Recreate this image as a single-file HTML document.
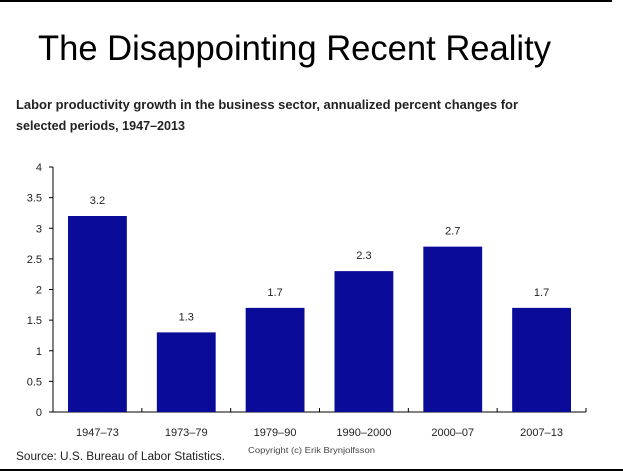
<!DOCTYPE html>
<html><head><meta charset="utf-8"><style>
html,body{margin:0;padding:0;background:#fff;}
svg{display:block;font-family:"Liberation Sans",sans-serif;}
</style></head><body>
<svg width="623" height="471" viewBox="0 0 623 471">
<line x1="0" y1="1" x2="612" y2="1" stroke="#000" stroke-width="2"/>
<line x1="0" y1="470" x2="623" y2="470" stroke="#000" stroke-width="2"/>
<text x="38" y="60" font-size="35" textLength="513" lengthAdjust="spacingAndGlyphs">The Disappointing Recent Reality</text>
<text x="16" y="109" font-size="13" font-weight="bold" fill="#222" textLength="502" lengthAdjust="spacingAndGlyphs">Labor productivity growth in the business sector, annualized percent changes for</text>
<text x="16" y="130" font-size="13" font-weight="bold" fill="#222" textLength="169" lengthAdjust="spacingAndGlyphs">selected periods, 1947–2013</text>
<g id="plot"></g>
<text x="16" y="460" font-size="11.5" fill="#222" textLength="209" lengthAdjust="spacingAndGlyphs">Source: U.S. Bureau of Labor Statistics.</text>
<text x="248" y="453" font-size="8" fill="#444" textLength="127" lengthAdjust="spacingAndGlyphs">Copyright (c) Erik Brynjolfsson</text>
</svg>
<script>
const categories=["1947–73","1973–79","1979–90","1990–2000","2000–07","2007–13"];
const values=[3.2,1.3,1.7,2.3,2.7,1.7];
const valueLabels=["3.2","1.3","1.7","2.3","2.7","1.7"];
const yTicks=[0,0.5,1,1.5,2,2.5,3,3.5,4];
const yTickLabels=["0","0.5","1","1.5","2","2.5","3","3.5","4"];

const NS="http://www.w3.org/2000/svg";
const g=document.getElementById('plot');
const x0=53,x1=586,yBase=412,yTop=167,yMax=4;
const bw=(x1-x0)/categories.length;
const y=v=>yBase-(v/yMax)*(yBase-yTop);
function mk(t,a){const e=document.createElementNS(NS,t);for(const k in a)e.setAttribute(k,a[k]);g.appendChild(e);return e;}
const ya=mk('line',{x1:x0,y1:yTop,x2:x0,y2:yBase,stroke:'#000','stroke-width':1});


const xa=mk('line',{x1:x0,y1:yBase,x2:x1,y2:yBase,stroke:'#000','stroke-width':1});


yTicks.forEach((t,i)=>{
  const tk=mk('line',{x1:x0-4,y1:y(t),x2:x0,y2:y(t),stroke:'#000'});
  
  
  const lb=mk('text',{x:x0-11,y:y(t)+4,'font-size':11,'text-anchor':'end',fill:'#222'});
  lb.textContent=yTickLabels[i];
  
  
});
for(let i=0;i<=categories.length;i++){
  const tk=mk('line',{x1:x0+i*bw,y1:yBase,x2:x0+i*bw,y2:yBase-4,stroke:'#000'});
  
  
}
categories.forEach((c,i)=>{
  const bx=x0+i*bw+15,w=bw-30;
  const r=mk('rect',{x:bx,y:y(values[i]),width:w,height:yBase-y(values[i]),fill:'#0b0b9a'});
  
  
  const vl=mk('text',{x:bx+w/2,y:y(values[i])-12,'font-size':11,'text-anchor':'middle',fill:'#222'});
  vl.textContent=valueLabels[i];
  
  
  const cl=mk('text',{x:x0+(i+0.5)*bw,y:yBase+24,'font-size':11,'text-anchor':'middle',fill:'#222'});
  cl.textContent=c;
  
  
});
</script>
</body></html>
